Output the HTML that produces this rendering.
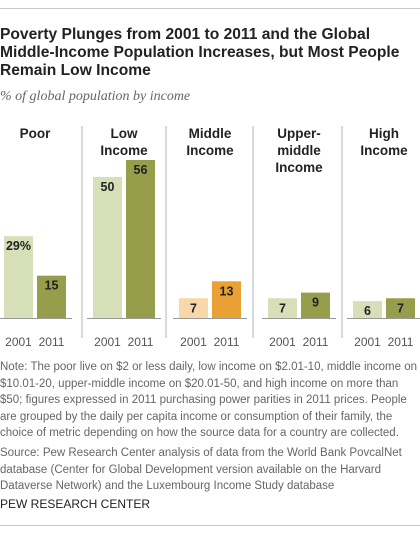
<!DOCTYPE html>
<html><head><meta charset="utf-8">
<style>
html,body{margin:0;padding:0;background:#fff;}
body{width:420px;height:533px;position:relative;overflow:hidden;font-family:"Liberation Sans",sans-serif;}
.rule{position:absolute;left:0;width:420px;height:1px;background:#c8c8c8;}
#title{position:absolute;left:0;top:26px;width:420px;font-weight:bold;font-size:15.6px;line-height:18px;color:#222;}
#subtitle{position:absolute;left:0;top:89px;font-family:"Liberation Serif",serif;font-style:italic;font-size:14px;color:#666;}
.foot{position:absolute;left:0;width:420px;font-size:11.5px;line-height:16.6px;color:#666;white-space:nowrap;}
#pew{position:absolute;left:0;top:497px;font-size:12px;color:#222;}
svg{position:absolute;left:0;top:110px;}
</style></head>
<body>
<div class="rule" style="top:8px"></div>
<div id="title">Poverty Plunges from 2001 to 2011 and the Global Middle-Income Population Increases, but Most People Remain Low Income</div>
<div id="subtitle">% of global population by income</div>
<svg id="chart" width="420" height="240"></svg>
<div class="foot" style="top:359px">Note: The poor live on $2 or less daily, low income on $2.01-10, middle income on<br>$10.01-20, upper-middle income on $20.01-50, and high income on more than<br>$50; figures expressed in 2011 purchasing power parities in 2011 prices. People<br>are grouped by the daily per capita income or consumption of their family, the<br>choice of metric depending on how the source data for a country are collected.</div>
<div class="foot" style="top:445px">Source: Pew Research Center analysis of data from the World Bank PovcalNet<br>database (Center for Global Development version available on the Harvard<br>Dataverse Network) and the Luxembourg Income Study database</div>
<div id="pew">PEW RESEARCH CENTER</div>
<div class="rule" style="top:525px"></div>
<script>
const categories = [["Poor"],["Low","Income"],["Middle","Income"],["Upper-","middle","Income"],["High","Income"]];
const years = ["2001","2011"];
const values2001 = [29,50,7,7,6];
const values2011 = [15,56,13,9,7];
const valueLabels2001 = ["29%","50","7","7","6"];
const valueLabels2011 = ["15","56","13","9","7"];

const NS="http://www.w3.org/2000/svg";
const svg=document.getElementById('chart');
const baseY=208, maxV=56, maxH=158;
function y(v){return baseY - v/maxV*maxH;}
const groupX=[4,93,179,268,353];
const barW=29, gap=4;
function mk(tag,attrs){const e=document.createElementNS(NS,tag);for(const k in attrs)e.setAttribute(k,attrs[k]);svg.appendChild(e);return e;}
const seps=[82,166,253,342];
seps.forEach(sx=>{
  const l=mk('line',{x1:sx,x2:sx,y1:16,y2:228,stroke:'#b5b5b5','stroke-width':1});
  
  
});
categories.forEach((cat,i)=>{
  const gx=groupX[i];
  const cx=gx+barW+gap/2;
  cat.forEach((ln,j)=>{
    const t=mk('text',{x:cx,y:28+j*17,'text-anchor':'middle','font-size':13.5,'font-weight':'bold',fill:'#222'});
    t.textContent=ln;
    
    
  });
  const ax=mk('line',{x1:gx-6,x2:gx+2*barW+gap+6,y1:baseY+0.5,y2:baseY+0.5,stroke:'#999','stroke-width':1});
  
  
  const mid=i===2;
  const c1=mid?'#f8d7a8':'#d7dfb8', c2=mid?'#e9a133':'#969e4c';
  [[values2001[i],valueLabels2001[i],c1,gx],[values2011[i],valueLabels2011[i],c2,gx+barW+gap]].forEach((b,k)=>{
    const r=mk('rect',{x:b[3],y:y(b[0]),width:barW,height:baseY-y(b[0]),fill:b[2]});
    
    
    const t=mk('text',{x:b[3]+barW/2,y:y(b[0])+14,'text-anchor':'middle','font-size':12.5,'font-weight':'bold',fill:'#222'});
    t.textContent=b[1];
    
    
    const yl=mk('text',{x:b[3]+barW/2,y:baseY+28,'text-anchor':'middle','font-size':12,fill:'#555'});
    yl.textContent=years[k];
    
    
  });
});
</script>
</body></html>
